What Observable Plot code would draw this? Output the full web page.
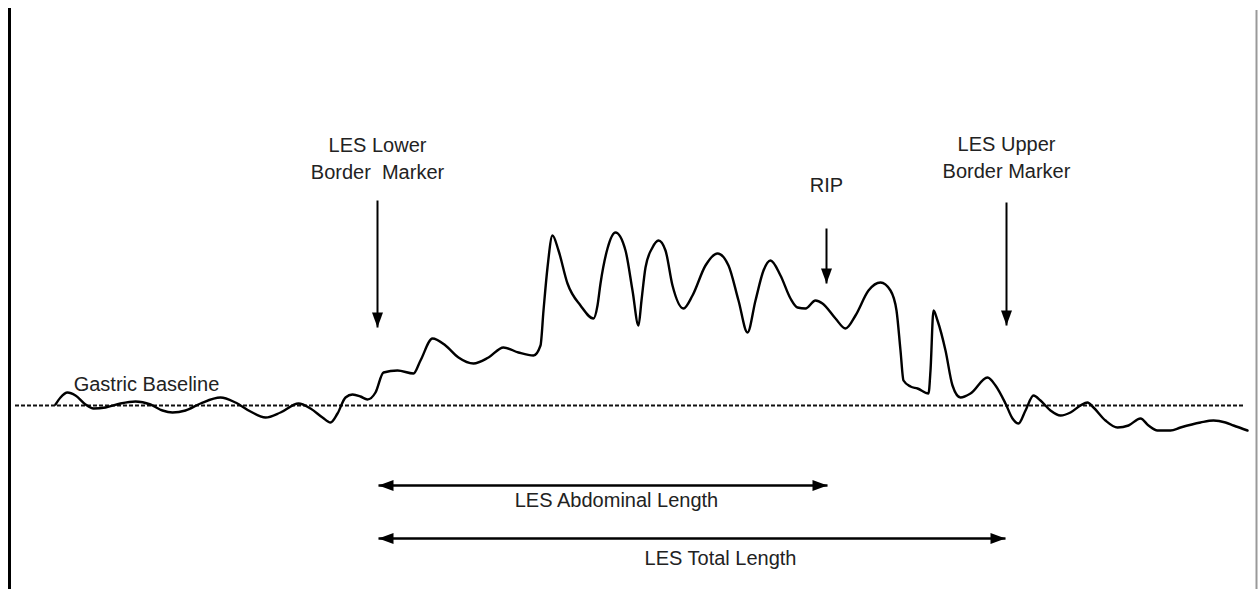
<!DOCTYPE html>
<html>
<head>
<meta charset="utf-8">
<script src="https://cdn.jsdelivr.net/npm/d3@7"></script>
<script src="https://cdn.jsdelivr.net/npm/@observablehq/plot@0.6"></script>
<style>
  html, body { margin: 0; padding: 0; background: #fff; }
  #chart svg { display: block; }
</style>
</head>
<body>
<div id="chart"></div>
<script>
// Pressure trace along the catheter (position, relative pressure; 0 = gastric baseline)
const tracePos = [55,60,67,75,85,93,105,120,135,150,162,172,185,200,220,235,250,265,280,298,310,322,330,337,345,352,360,367,375,383,397,413,420,432,445,458,473,488,503,518,533,540,543,547,552,558,567,580,593,597,600,607,615,625,632,638,641,645,652,658,665,672,683,692,705,717,728,738,747,755,763,770,780,790,797,805,815,822,835,845,855,868,880,890,896,900,903,910,917,928,930,933,937,945,952,960,970,987,995,1005,1012,1018,1025,1033,1040,1050,1060,1070,1080,1087,1093,1105,1117,1128,1140,1148,1157,1170,1180,1200,1213,1225,1233,1247];
const tracePressure = [1,8,13,10,1,-3,-2,2,4,1,-5,-7,-5,2,8,3,-6,-12,-7,2,-3,-12,-17,-8,8,11,9,6,13,33,35,32,45,67,60,48,42,48,58,53,50,60,95,138,170,155,122,100,87,100,122,157,173,155,115,80,105,138,158,165,155,120,97,110,140,152,140,105,73,105,135,145,130,107,98,97,105,102,87,77,90,115,123,115,95,55,25,19,17,12,35,95,85,55,20,8,12,28,20,2,-13,-18,-5,10,5,-5,-10,-7,0,3,-2,-15,-22,-20,-13,-20,-25,-25,-22,-17,-15,-17,-20,-25];

// Gastric baseline
const baselineStart = [15];
const baselineEnd = [1245];
const baselineLabel = ["Gastric Baseline"];
const baselineLabelPos = [146];
const baselineLabelP = [21];

// Vertical markers
const markerLabels = ["LES Lower\nBorder  Marker", "RIP", "LES Upper\nBorder Marker"];
const markerPos = [377, 826, 1006];
const markerTop = [205, 177, 203];
const markerTip = [78, 122, 80];
const markerLabelP = [249, 222, 250];

// Length spans
const spanLabels = ["LES Abdominal Length", "LES Total Length"];
const spanStart = [378, 378];
const spanEnd = [827, 1005];
const spanP = [-80, -133];
const spanLabelPos = [616, 720];
const spanLabelP = [-95, -153];

// Frame edges
const frameLeft = [9];
const frameRight = [1256];

const trace = tracePos.map((x, i) => ({x, p: tracePressure[i]}));
const markers = markerLabels.map((label, i) => ({label, x: markerPos[i], top: markerTop[i], tip: markerTip[i], ly: markerLabelP[i]}));
const spans = spanLabels.map((label, i) => ({label, x1: spanStart[i], x2: spanEnd[i], y: spanP[i], lx: spanLabelPos[i], ly: spanLabelP[i]}));

// filled arrowhead symbol, tip at origin pointing down
const head = {
  draw(context) {
    context.moveTo(0, 0);
    context.lineTo(-5.5, -15);
    context.lineTo(5.5, -15);
    context.closePath();
  }
};

const heads = [
  ...markers.map(d => ({x: d.x, y: d.tip, rot: 0})),
  ...spans.map(d => ({x: d.x1, y: d.y, rot: 90})),
  ...spans.map(d => ({x: d.x2, y: d.y, rot: -90}))
];

const font = "'Liberation Sans', Arial, sans-serif";

const chart = Plot.plot({
  width: 1258,
  height: 589,
  margin: 0,
  x: {domain: [0, 1258], axis: null},
  y: {domain: [-184, 405], axis: null},
  style: {background: "#fff", fontFamily: font},
  marks: [
    Plot.ruleX(frameLeft, {x: d => d, y1: -184, y2: 397, stroke: "#000", strokeWidth: 3}),
    Plot.ruleX(frameRight, {x: d => d, y1: -184, y2: 395, stroke: "#999", strokeWidth: 2}),
    Plot.ruleY([0], {x1: baselineStart[0], x2: baselineEnd[0], stroke: "#111", strokeWidth: 2, strokeDasharray: "4,2"}),
    Plot.line(trace, {x: "x", y: "p", curve: "monotone-x", stroke: "#000", strokeWidth: 2.4}),
    Plot.text(baselineLabel, {x: baselineLabelPos, y: baselineLabelP, text: d => d, fontSize: 20, fill: "#222", textAnchor: "middle"}),
    Plot.link(markers, {x1: "x", x2: "x", y1: "top", y2: "tip", stroke: "#000", strokeWidth: 2}),
    Plot.text(markers, {x: "x", y: "ly", text: "label", fontSize: 20, lineHeight: 1.35, fill: "#222", textAnchor: "middle"}),
    Plot.link(spans, {x1: "x1", x2: "x2", y1: "y", y2: "y", stroke: "#000", strokeWidth: 2.5}),
    Plot.text(spans, {x: "lx", y: "ly", text: "label", fontSize: 20, fill: "#222", textAnchor: "middle"}),
    Plot.dot(heads, {x: "x", y: "y", rotate: "rot", symbol: head, fill: "#000", stroke: "none", r: 5})
  ]
});

document.getElementById("chart").appendChild(chart);
</script>
</body>
</html>
